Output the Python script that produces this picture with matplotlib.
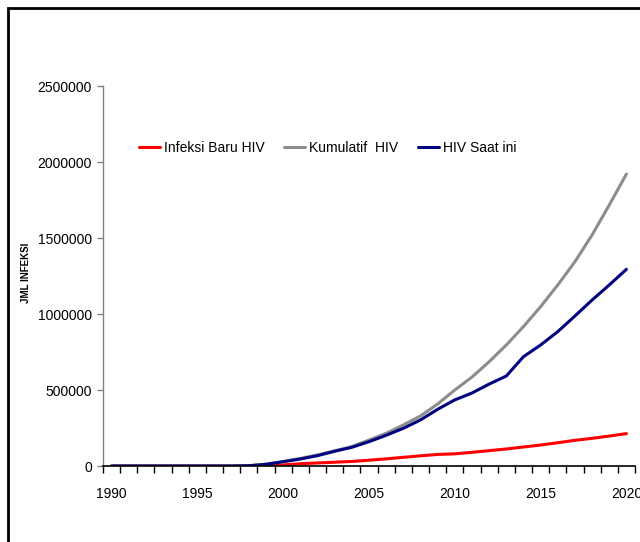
import matplotlib
matplotlib.use("Agg")
import matplotlib.pyplot as plt
from matplotlib import font_manager
from matplotlib.patches import Rectangle
from matplotlib.ticker import MultipleLocator, FixedLocator, NullFormatter, FuncFormatter

years = list(range(1990, 2021))

infeksi_baru = [0, 0, 0, 0, 0, 0, 0, 0, 0, 0,
                7000, 15000, 20000, 25000, 30000, 38000, 47000, 57000, 67000, 76000,
                80000, 90000, 101000, 112000, 125000, 138000, 153000, 169000, 182000, 197000,
                213000]
kumulatif = [0, 0, 0, 0, 0, 0, 0, 0, 2000, 12000,
             30000, 50000, 73000, 100000, 128000, 171000, 215000, 270000, 329000, 408000,
             500000, 585000, 686000, 796000, 917000, 1048000, 1191000, 1344000, 1520000, 1717000,
             1921000]
saat_ini = [0, 0, 0, 0, 0, 0, 0, 0, 2000, 11000,
            28000, 46000, 68000, 97000, 123000, 160000, 202000, 248000, 303000, 373000,
            435000, 480000, 539000, 592000, 719000, 796000, 884000, 987000, 1092000, 1191000,
            1294000]

series_labels = ["Infeksi Baru HIV", "Kumulatif  HIV", "HIV Saat ini"]
series_colors = ["#ff0000", "#8c8c8c", "#000080"]
y_label = "JML INFEKSI"

names = {f.name for f in font_manager.fontManager.ttflist}
if "Liberation Sans Narrow" in names:
    tick_font, tick_size = "Liberation Sans Narrow", 12.5
else:
    tick_font, tick_size = "Liberation Sans", 10

fig = plt.figure(figsize=(6.4, 5.42), dpi=100)
fig.patch.set_facecolor("white")

# outer frame (only left and top edges fall inside the canvas)
fig.patches.append(Rectangle((7.5 / 640, -0.1), 1.2, (542 - 7.5) / 542 + 0.1,
                             transform=fig.transFigure, fill=False,
                             edgecolor="black", linewidth=2.0, zorder=0))

ax = fig.add_axes([103 / 640, 76 / 542, 532 / 640, 380 / 542])
ax.set_facecolor("none")

for vals, lab, col in zip([infeksi_baru, kumulatif, saat_ini], series_labels, series_colors):
    ax.plot(years, vals, color=col, linewidth=2.2, label=lab, solid_capstyle="round")

ax.set_xlim(1989.5, 2020.5)
ax.set_ylim(0, 2500000)

ax.xaxis.set_major_locator(FixedLocator(list(range(1990, 2021, 5))))
ax.xaxis.set_minor_locator(FixedLocator([y + 0.5 for y in range(1989, 2021)]))
ax.xaxis.set_minor_formatter(NullFormatter())
ax.tick_params(axis="x", which="major", length=0, pad=15, labelsize=tick_size)
ax.tick_params(axis="x", which="minor", length=5, width=1.0, color="black", direction="out")
ax.yaxis.set_major_locator(MultipleLocator(500000))
ax.yaxis.set_major_formatter(FuncFormatter(lambda v, p: f"{int(v)}"))
ax.tick_params(axis="y", which="major", length=4, width=1.0, color="#808080",
               direction="out", pad=4, labelsize=tick_size)
for lbl in ax.get_xticklabels() + ax.get_yticklabels():
    lbl.set_fontfamily(tick_font)

for s in ("top", "right"):
    ax.spines[s].set_visible(False)
ax.spines["left"].set_color("#808080")
ax.spines["left"].set_linewidth(1.0)
ax.spines["bottom"].set_color("black")
ax.spines["bottom"].set_linewidth(1.2)

fig.text(26 / 640, 1 - 273 / 542, y_label, rotation=90, ha="center", va="center",
         fontsize=7, fontweight="bold", family="Liberation Sans")

leg = ax.legend(loc="center left", bbox_to_anchor=(139 / 640, 1 - 148 / 542),
                bbox_transform=fig.transFigure, ncol=3, frameon=False,
                handlelength=1.5, handletextpad=0.3, columnspacing=1.4,
                borderpad=0, borderaxespad=0,
                prop={"family": tick_font, "size": tick_size})
for h in leg.get_lines():
    h.set_linewidth(2.2)

fig.savefig("out.png", dpi=100)
